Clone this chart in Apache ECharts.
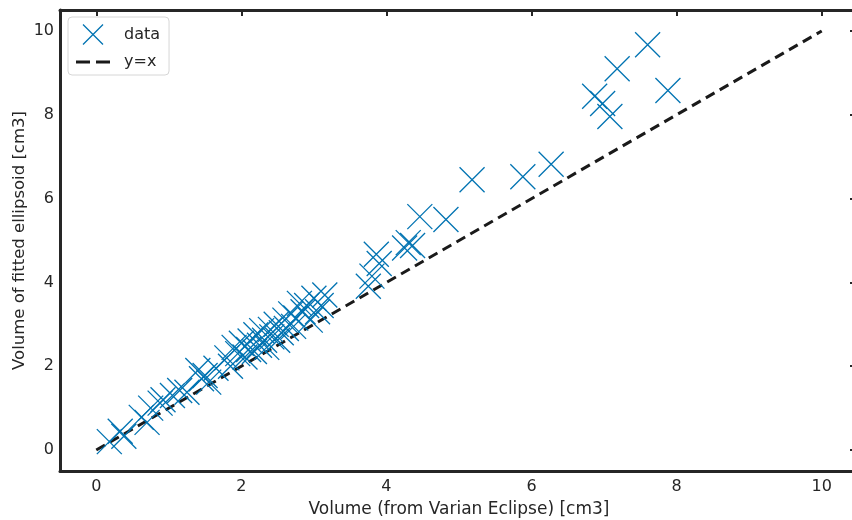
<!DOCTYPE html>
<html><head><meta charset="utf-8">
<script src="https://cdn.jsdelivr.net/npm/echarts@6/dist/echarts.min.js"></script>
<style>html,body{margin:0;padding:0;background:#fff;overflow:hidden}#c{width:852px;height:520px}</style>
</head><body><div id="c"></div>
<script>
const xVals = [0.18,0.33,0.38,0.62,0.70,0.75,0.88,0.92,1.05,1.15,1.25,1.40,1.45,1.50,1.55,1.65,1.80,1.85,1.90,1.95,2.00,2.05,2.10,2.12,2.18,2.20,2.25,2.28,2.32,2.35,2.40,2.42,2.48,2.50,2.55,2.60,2.62,2.68,2.72,2.75,2.80,2.85,2.90,2.95,3.00,3.05,3.10,3.15,3.75,3.80,3.86,3.90,4.25,4.30,4.36,4.46,4.82,5.18,5.88,6.27,6.87,6.98,7.08,7.18,7.60,7.88];
const yVals = [0.20,0.45,0.33,0.78,0.66,1.00,1.12,1.20,1.30,1.42,1.38,1.90,1.70,1.78,1.62,1.95,2.20,2.00,2.45,2.30,2.55,2.22,2.40,2.60,2.35,2.75,2.50,2.85,2.62,2.45,2.88,2.70,3.00,2.62,2.80,3.10,2.90,3.25,2.95,3.15,3.50,3.30,3.45,3.10,3.62,3.30,3.45,3.70,3.91,4.15,4.67,4.45,4.82,4.95,4.88,5.57,5.50,6.45,6.52,6.82,8.44,8.27,7.96,9.10,9.67,8.58];
const lineX = [0, 10];
const lineY = [0, 10];
const tickValues = [0, 2, 4, 6, 8, 10];
const seriesNames = ['data', 'y=x'];
const xTitle = 'Volume (from Varian Eclipse) [cm3]';
const yTitle = 'Volume of fitted ellipsoid [cm3]';

const BLUE = '#0173b2', DARK = '#262626', FONT = 'DejaVu Sans';
const X_PATH = 'path://M0,0L10,10M10,0L0,10';
const DASH_PATH = 'path://M0,0h14v3.2h-14zM20,0h14v3.2h-14z';
const scatterData = xVals.map((x, i) => [x, yVals[i]]);
const lineData = lineX.map((x, i) => [x, lineY[i]]);

const axisCommon = {
  type: 'value', min: -0.5, max: 10.5,
  splitLine: {show: false},
  axisLine: {show: true, onZero: false, lineStyle: {color: DARK, width: 3}},
};
const tickStyle = {fontFamily: FONT, fontSize: 16, color: DARK};

const chart = echarts.init(document.getElementById('c'), null, {renderer: 'canvas'});
chart.setOption({
  animation: false,
  backgroundColor: '#fff',
  grid: {left: 60, top: 10, width: 798, height: 461, containLabel: false, outerBoundsMode: 'none'},
  legend: {
    left: 68, top: 17, orient: 'vertical', itemGap: 7, itemWidth: 34, itemHeight: 20,
    padding: [5, 9, 5, 8],
    backgroundColor: '#fff', borderColor: '#d6d6d6', borderWidth: 1, borderRadius: 4,
    textStyle: {fontFamily: FONT, fontSize: 16, color: DARK, padding: [0, 0, 0, 9]},
    data: [
      {name: seriesNames[0], icon: X_PATH, itemStyle: {color: 'none', borderColor: BLUE, borderWidth: 1.3}},
      {name: seriesNames[1], icon: DASH_PATH, itemStyle: {color: '#1a1a1a', borderWidth: 0}, lineStyle: {width: 0}}
    ]
  },
  xAxis: [
    Object.assign({}, axisCommon, {
      position: 'bottom',
      axisTick: {show: false},
      axisLabel: Object.assign({show: true, margin: 8, customValues: tickValues}, tickStyle),
      name: xTitle, nameLocation: 'middle', nameGap: 30, nameMoveOverlap: false,
      nameTextStyle: {fontFamily: FONT, fontSize: 17, color: DARK}
    }),
    Object.assign({}, axisCommon, {
      position: 'top',
      axisTick: {show: true, inside: true, length: 6, customValues: tickValues, lineStyle: {color: DARK, width: 2}},
      axisLabel: {show: false}
    })
  ],
  yAxis: [
    Object.assign({}, axisCommon, {
      position: 'left',
      axisTick: {show: false},
      axisLabel: Object.assign({show: true, margin: 6, customValues: tickValues}, tickStyle),
      name: yTitle, nameLocation: 'middle', nameGap: 32, nameRotate: 90, nameMoveOverlap: false,
      nameTextStyle: {fontFamily: FONT, fontSize: 16.5, color: DARK}
    }),
    Object.assign({}, axisCommon, {
      position: 'right',
      axisTick: {show: true, inside: true, length: 8, customValues: tickValues, lineStyle: {color: DARK, width: 2}},
      axisLabel: {show: false}
    })
  ],
  series: [
    {
      name: seriesNames[0], type: 'scatter', xAxisIndex: 0, yAxisIndex: 0,
      symbol: X_PATH, symbolSize: 25,
      itemStyle: {color: 'none', borderColor: BLUE, borderWidth: 1.3, opacity: 1},
      data: scatterData, z: 3
    },
    {
      name: seriesNames[1], type: 'line', xAxisIndex: 0, yAxisIndex: 0,
      showSymbol: false, symbol: 'none',
      lineStyle: {color: '#1a1a1a', width: 3, type: [10, 6]},
      itemStyle: {color: '#1a1a1a'},
      data: lineData, z: 2
    }
  ]
});
</script></body></html>
